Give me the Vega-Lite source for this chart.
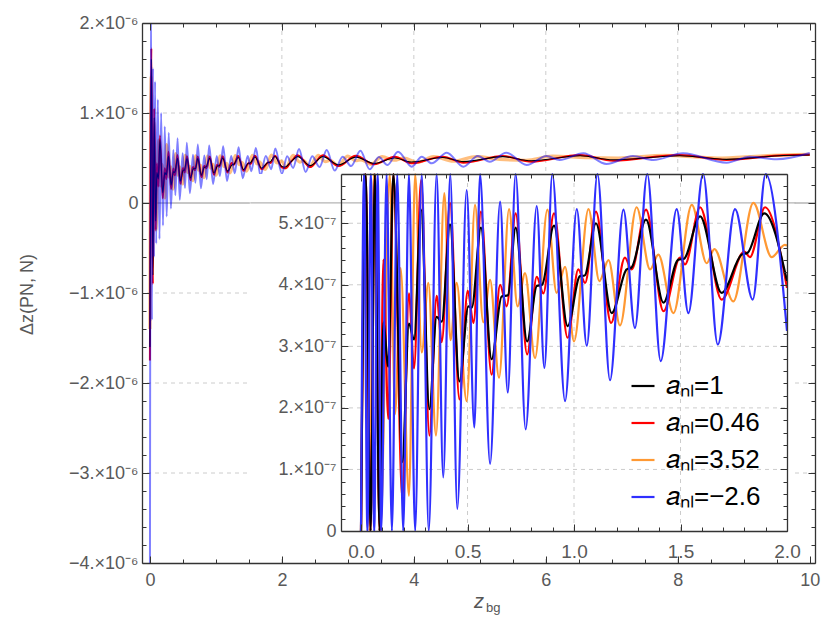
{
  "$schema": "https://vega.github.io/schema/vega-lite/v6.json",
  "width": 673,
  "height": 540,
  "autosize": {"type": "none"},
  "padding": {"left": 142, "top": 23, "right": 15, "bottom": 76},
  "background": "white",
  "datasets": {
    "curves": [
      {"s": "a3.52", "z": 0, "v": -1.4e-6}, {"s": "a3.52", "z": 0.018, "v": 1.4e-6}, {"s": "a3.52", "z": 0.04, "v": -6.0e-7},
      {"s": "a3.52", "z": 0.06, "v": 9.0e-7}, {"s": "a3.52", "z": 0.09, "v": -3.0e-7}, {"s": "a3.52", "z": 0.135, "v": 7.0e-7},
      {"s": "a3.52", "z": 0.16, "v": 1.9e-7}, {"s": "a3.52", "z": 0.186, "v": 4.27e-7}, {"s": "a3.52", "z": 0.225, "v": 0.57e-7},
      {"s": "a3.52", "z": 0.254, "v": 6.5e-7}, {"s": "a3.52", "z": 0.285, "v": 2.9e-7}, {"s": "a3.52", "z": 0.316, "v": 4.03e-7},
      {"s": "a3.52", "z": 0.352, "v": 1.55e-7}, {"s": "a3.52", "z": 0.391, "v": 5.49e-7}, {"s": "a3.52", "z": 0.42, "v": 3.1e-7},
      {"s": "a3.52", "z": 0.449, "v": 4.03e-7}, {"s": "a3.52", "z": 0.496, "v": 2.11e-7}, {"s": "a3.52", "z": 0.535, "v": 5.3e-7},
      {"s": "a3.52", "z": 0.574, "v": 3.39e-7}, {"s": "a3.52", "z": 0.606, "v": 4.08e-7}, {"s": "a3.52", "z": 0.648, "v": 2.49e-7},
      {"s": "a3.52", "z": 0.695, "v": 5.23e-7}, {"s": "a3.52", "z": 0.735, "v": 3.65e-7}, {"s": "a3.52", "z": 0.77, "v": 4.19e-7},
      {"s": "a3.52", "z": 0.817, "v": 2.81e-7}, {"s": "a3.52", "z": 0.875, "v": 5.22e-7}, {"s": "a3.52", "z": 0.918, "v": 3.87e-7},
      {"s": "a3.52", "z": 0.958, "v": 4.29e-7}, {"s": "a3.52", "z": 1.0, "v": 3.08e-7}, {"s": "a3.52", "z": 1.068, "v": 5.23e-7},
      {"s": "a3.52", "z": 1.119, "v": 4.06e-7}, {"s": "a3.52", "z": 1.162, "v": 4.4e-7}, {"s": "a3.52", "z": 1.216, "v": 3.34e-7},
      {"s": "a3.52", "z": 1.294, "v": 5.26e-7}, {"s": "a3.52", "z": 1.357, "v": 4.25e-7}, {"s": "a3.52", "z": 1.396, "v": 4.49e-7},
      {"s": "a3.52", "z": 1.467, "v": 3.54e-7}, {"s": "a3.52", "z": 1.553, "v": 5.3e-7}, {"s": "a3.52", "z": 1.623, "v": 4.35e-7},
      {"s": "a3.52", "z": 1.659, "v": 4.58e-7}, {"s": "a3.52", "z": 1.748, "v": 3.73e-7}, {"s": "a3.52", "z": 1.842, "v": 5.33e-7},
      {"s": "a3.52", "z": 1.928, "v": 4.45e-7}, {"s": "a3.52", "z": 1.99, "v": 4.65e-7}, {"s": "a3.52", "z": 2.0, "v": 4.64e-7},
      {"s": "a3.52", "z": 2.06, "v": 3.9e-7}, {"s": "a3.52", "z": 2.17, "v": 5.3e-7}, {"s": "a3.52", "z": 2.27, "v": 4.55e-7},
      {"s": "a3.52", "z": 2.33, "v": 4.7e-7}, {"s": "a3.52", "z": 2.42, "v": 4.05e-7}, {"s": "a3.52", "z": 2.55, "v": 5.3e-7},
      {"s": "a3.52", "z": 2.66, "v": 4.6e-7}, {"s": "a3.52", "z": 2.73, "v": 4.75e-7}, {"s": "a3.52", "z": 2.85, "v": 4.15e-7},
      {"s": "a3.52", "z": 3.0, "v": 5.2e-7}, {"s": "a3.52", "z": 3.12, "v": 4.7e-7}, {"s": "a3.52", "z": 3.2, "v": 4.8e-7},
      {"s": "a3.52", "z": 3.35, "v": 4.3e-7}, {"s": "a3.52", "z": 3.52, "v": 5.15e-7}, {"s": "a3.52", "z": 3.7, "v": 4.75e-7},
      {"s": "a3.52", "z": 3.85, "v": 5.0e-7}, {"s": "a3.52", "z": 4.05, "v": 4.5e-7}, {"s": "a3.52", "z": 4.3, "v": 5.15e-7},
      {"s": "a3.52", "z": 4.6, "v": 4.65e-7}, {"s": "a3.52", "z": 4.95, "v": 5.15e-7}, {"s": "a3.52", "z": 5.3, "v": 4.85e-7},
      {"s": "a3.52", "z": 5.7, "v": 4.75e-7}, {"s": "a3.52", "z": 6.1, "v": 5.2e-7}, {"s": "a3.52", "z": 6.6, "v": 5.05e-7},
      {"s": "a3.52", "z": 7.1, "v": 5.0e-7}, {"s": "a3.52", "z": 7.8, "v": 5.3e-7}, {"s": "a3.52", "z": 8.6, "v": 5.0e-7},
      {"s": "a3.52", "z": 9.3, "v": 5.25e-7}, {"s": "a3.52", "z": 10.0, "v": 5.4e-7},

      {"s": "a0.46", "z": 0, "v": -1.75e-6}, {"s": "a0.46", "z": 0.022, "v": 1.72e-6}, {"s": "a0.46", "z": 0.045, "v": -9.0e-7},
      {"s": "a0.46", "z": 0.065, "v": 1.05e-6}, {"s": "a0.46", "z": 0.087, "v": -3.0e-7}, {"s": "a0.46", "z": 0.105, "v": 4.41e-7},
      {"s": "a0.46", "z": 0.128, "v": 1.82e-7}, {"s": "a0.46", "z": 0.152, "v": 7.5e-7}, {"s": "a0.46", "z": 0.194, "v": 0.52e-7},
      {"s": "a0.46", "z": 0.225, "v": 3.86e-7}, {"s": "a0.46", "z": 0.249, "v": 2.64e-7}, {"s": "a0.46", "z": 0.282, "v": 5.7e-7},
      {"s": "a0.46", "z": 0.321, "v": 1.55e-7}, {"s": "a0.46", "z": 0.355, "v": 3.82e-7}, {"s": "a0.46", "z": 0.379, "v": 3.07e-7},
      {"s": "a0.46", "z": 0.418, "v": 5.33e-7}, {"s": "a0.46", "z": 0.462, "v": 2.14e-7}, {"s": "a0.46", "z": 0.501, "v": 3.9e-7},
      {"s": "a0.46", "z": 0.528, "v": 3.38e-7}, {"s": "a0.46", "z": 0.563, "v": 5.19e-7}, {"s": "a0.46", "z": 0.613, "v": 2.54e-7},
      {"s": "a0.46", "z": 0.653, "v": 4.0e-7}, {"s": "a0.46", "z": 0.684, "v": 3.65e-7}, {"s": "a0.46", "z": 0.726, "v": 5.16e-7},
      {"s": "a0.46", "z": 0.78, "v": 2.87e-7}, {"s": "a0.46", "z": 0.825, "v": 4.13e-7}, {"s": "a0.46", "z": 0.856, "v": 3.86e-7},
      {"s": "a0.46", "z": 0.906, "v": 5.16e-7}, {"s": "a0.46", "z": 0.97, "v": 3.14e-7}, {"s": "a0.46", "z": 1.02, "v": 4.25e-7},
      {"s": "a0.46", "z": 1.052, "v": 4.03e-7}, {"s": "a0.46", "z": 1.103, "v": 5.19e-7}, {"s": "a0.46", "z": 1.174, "v": 3.38e-7},
      {"s": "a0.46", "z": 1.239, "v": 4.44e-7}, {"s": "a0.46", "z": 1.271, "v": 4.25e-7}, {"s": "a0.46", "z": 1.338, "v": 5.22e-7},
      {"s": "a0.46", "z": 1.42, "v": 3.57e-7}, {"s": "a0.46", "z": 1.498, "v": 4.44e-7}, {"s": "a0.46", "z": 1.521, "v": 4.33e-7},
      {"s": "a0.46", "z": 1.592, "v": 5.26e-7}, {"s": "a0.46", "z": 1.693, "v": 3.76e-7}, {"s": "a0.46", "z": 1.8, "v": 4.54e-7},
      {"s": "a0.46", "z": 1.826, "v": 4.45e-7}, {"s": "a0.46", "z": 1.897, "v": 5.26e-7}, {"s": "a0.46", "z": 2.0, "v": 3.95e-7},
      {"s": "a0.46", "z": 2.05, "v": 3.85e-7}, {"s": "a0.46", "z": 2.14, "v": 4.6e-7}, {"s": "a0.46", "z": 2.24, "v": 5.3e-7},
      {"s": "a0.46", "z": 2.43, "v": 4.0e-7}, {"s": "a0.46", "z": 2.62, "v": 5.3e-7}, {"s": "a0.46", "z": 2.86, "v": 4.1e-7},
      {"s": "a0.46", "z": 3.12, "v": 5.25e-7}, {"s": "a0.46", "z": 3.4, "v": 4.3e-7}, {"s": "a0.46", "z": 3.71, "v": 5.15e-7},
      {"s": "a0.46", "z": 3.96, "v": 4.41e-7}, {"s": "a0.46", "z": 4.44, "v": 5.15e-7}, {"s": "a0.46", "z": 4.75, "v": 4.48e-7},
      {"s": "a0.46", "z": 5.35, "v": 5.22e-7}, {"s": "a0.46", "z": 5.78, "v": 4.59e-7}, {"s": "a0.46", "z": 6.52, "v": 5.33e-7},
      {"s": "a0.46", "z": 7.02, "v": 4.7e-7}, {"s": "a0.46", "z": 8.03, "v": 5.33e-7}, {"s": "a0.46", "z": 8.74, "v": 4.78e-7},
      {"s": "a0.46", "z": 9.6, "v": 5.3e-7}, {"s": "a0.46", "z": 10.0, "v": 5.35e-7},

      {"s": "a1", "z": 0, "v": -1.6e-6}, {"s": "a1", "z": 0.022, "v": 1.6e-6}, {"s": "a1", "z": 0.045, "v": -8.0e-7},
      {"s": "a1", "z": 0.065, "v": 9.5e-7}, {"s": "a1", "z": 0.087, "v": -2.0e-7}, {"s": "a1", "z": 0.105, "v": 3.39e-7},
      {"s": "a1", "z": 0.128, "v": 2.67e-7}, {"s": "a1", "z": 0.152, "v": 7.0e-7}, {"s": "a1", "z": 0.194, "v": 1.12e-7},
      {"s": "a1", "z": 0.225, "v": 3.37e-7}, {"s": "a1", "z": 0.249, "v": 3.11e-7}, {"s": "a1", "z": 0.282, "v": 5.22e-7},
      {"s": "a1", "z": 0.321, "v": 1.98e-7}, {"s": "a1", "z": 0.355, "v": 3.48e-7}, {"s": "a1", "z": 0.379, "v": 3.4e-7},
      {"s": "a1", "z": 0.418, "v": 4.98e-7}, {"s": "a1", "z": 0.462, "v": 2.43e-7}, {"s": "a1", "z": 0.504, "v": 3.65e-7},
      {"s": "a1", "z": 0.52, "v": 3.63e-7}, {"s": "a1", "z": 0.563, "v": 4.93e-7}, {"s": "a1", "z": 0.613, "v": 2.79e-7},
      {"s": "a1", "z": 0.66, "v": 3.81e-7}, {"s": "a1", "z": 0.69, "v": 3.83e-7}, {"s": "a1", "z": 0.726, "v": 4.93e-7},
      {"s": "a1", "z": 0.78, "v": 3.08e-7}, {"s": "a1", "z": 0.825, "v": 3.98e-7}, {"s": "a1", "z": 0.85, "v": 4.0e-7},
      {"s": "a1", "z": 0.906, "v": 4.96e-7}, {"s": "a1", "z": 0.97, "v": 3.33e-7}, {"s": "a1", "z": 1.028, "v": 4.14e-7},
      {"s": "a1", "z": 1.05, "v": 4.15e-7}, {"s": "a1", "z": 1.103, "v": 5.0e-7}, {"s": "a1", "z": 1.177, "v": 3.54e-7},
      {"s": "a1", "z": 1.247, "v": 4.25e-7}, {"s": "a1", "z": 1.27, "v": 4.28e-7}, {"s": "a1", "z": 1.338, "v": 5.06e-7},
      {"s": "a1", "z": 1.42, "v": 3.71e-7}, {"s": "a1", "z": 1.49, "v": 4.41e-7}, {"s": "a1", "z": 1.515, "v": 4.42e-7},
      {"s": "a1", "z": 1.592, "v": 5.11e-7}, {"s": "a1", "z": 1.693, "v": 3.87e-7}, {"s": "a1", "z": 1.787, "v": 4.49e-7},
      {"s": "a1", "z": 1.815, "v": 4.52e-7}, {"s": "a1", "z": 1.893, "v": 5.16e-7}, {"s": "a1", "z": 2.0, "v": 4.06e-7},
      {"s": "a1", "z": 2.05, "v": 4.0e-7}, {"s": "a1", "z": 2.14, "v": 4.6e-7}, {"s": "a1", "z": 2.24, "v": 5.15e-7},
      {"s": "a1", "z": 2.43, "v": 4.15e-7}, {"s": "a1", "z": 2.62, "v": 5.15e-7}, {"s": "a1", "z": 2.86, "v": 4.25e-7},
      {"s": "a1", "z": 3.12, "v": 5.1e-7}, {"s": "a1", "z": 3.4, "v": 4.4e-7}, {"s": "a1", "z": 3.71, "v": 5.0e-7},
      {"s": "a1", "z": 3.96, "v": 4.55e-7}, {"s": "a1", "z": 4.44, "v": 5.05e-7}, {"s": "a1", "z": 4.75, "v": 4.6e-7},
      {"s": "a1", "z": 5.35, "v": 5.15e-7}, {"s": "a1", "z": 5.78, "v": 4.7e-7}, {"s": "a1", "z": 6.52, "v": 5.25e-7},
      {"s": "a1", "z": 7.02, "v": 4.8e-7}, {"s": "a1", "z": 8.03, "v": 5.25e-7}, {"s": "a1", "z": 8.74, "v": 4.85e-7},
      {"s": "a1", "z": 9.6, "v": 5.28e-7}, {"s": "a1", "z": 10.0, "v": 5.33e-7},

      {"s": "a-2.6", "z": 0, "v": -4.5e-6}, {"s": "a-2.6", "z": 0.014, "v": 2.5e-6}, {"s": "a-2.6", "z": 0.03, "v": -1.3e-6},
      {"s": "a-2.6", "z": 0.046, "v": 1.5e-6}, {"s": "a-2.6", "z": 0.062, "v": -6.0e-7}, {"s": "a-2.6", "z": 0.078, "v": 1.35e-6},
      {"s": "a-2.6", "z": 0.095, "v": -4.5e-7}, {"s": "a-2.6", "z": 0.12, "v": 1.15e-6}, {"s": "a-2.6", "z": 0.145, "v": -4.0e-7},
      {"s": "a-2.6", "z": 0.17, "v": 1.0e-6}, {"s": "a-2.6", "z": 0.198, "v": -2.5e-7}, {"s": "a-2.6", "z": 0.225, "v": 8.5e-7},
      {"s": "a-2.6", "z": 0.254, "v": -1.5e-7}, {"s": "a-2.6", "z": 0.285, "v": 7.8e-7}, {"s": "a-2.6", "z": 0.318, "v": -0.6e-7},
      {"s": "a-2.6", "z": 0.355, "v": 5.9e-7}, {"s": "a-2.6", "z": 0.386, "v": 0.87e-7}, {"s": "a-2.6", "z": 0.419, "v": 7.2e-7},
      {"s": "a-2.6", "z": 0.452, "v": 0.36e-7}, {"s": "a-2.6", "z": 0.496, "v": 5.54e-7}, {"s": "a-2.6", "z": 0.532, "v": 1.68e-7},
      {"s": "a-2.6", "z": 0.559, "v": 6.7e-7}, {"s": "a-2.6", "z": 0.606, "v": 1.09e-7}, {"s": "a-2.6", "z": 0.653, "v": 5.35e-7},
      {"s": "a-2.6", "z": 0.689, "v": 2.25e-7}, {"s": "a-2.6", "z": 0.726, "v": 6.5e-7}, {"s": "a-2.6", "z": 0.773, "v": 1.65e-7},
      {"s": "a-2.6", "z": 0.825, "v": 5.28e-7}, {"s": "a-2.6", "z": 0.861, "v": 2.65e-7}, {"s": "a-2.6", "z": 0.898, "v": 6.4e-7},
      {"s": "a-2.6", "z": 0.958, "v": 2.11e-7}, {"s": "a-2.6", "z": 1.013, "v": 5.23e-7}, {"s": "a-2.6", "z": 1.06, "v": 3.01e-7},
      {"s": "a-2.6", "z": 1.11, "v": 6.3e-7}, {"s": "a-2.6", "z": 1.169, "v": 2.45e-7}, {"s": "a-2.6", "z": 1.232, "v": 5.22e-7},
      {"s": "a-2.6", "z": 1.286, "v": 3.3e-7}, {"s": "a-2.6", "z": 1.344, "v": 6.2e-7}, {"s": "a-2.6", "z": 1.407, "v": 2.76e-7},
      {"s": "a-2.6", "z": 1.482, "v": 5.23e-7}, {"s": "a-2.6", "z": 1.537, "v": 3.54e-7}, {"s": "a-2.6", "z": 1.606, "v": 6.1e-7},
      {"s": "a-2.6", "z": 1.675, "v": 3.03e-7}, {"s": "a-2.6", "z": 1.756, "v": 5.23e-7}, {"s": "a-2.6", "z": 1.839, "v": 3.76e-7},
      {"s": "a-2.6", "z": 1.9, "v": 6.05e-7}, {"s": "a-2.6", "z": 2.0, "v": 3.25e-7}, {"s": "a-2.6", "z": 2.08, "v": 5.2e-7},
      {"s": "a-2.6", "z": 2.17, "v": 3.9e-7}, {"s": "a-2.6", "z": 2.26, "v": 6.0e-7}, {"s": "a-2.6", "z": 2.36, "v": 3.45e-7},
      {"s": "a-2.6", "z": 2.46, "v": 5.2e-7}, {"s": "a-2.6", "z": 2.57, "v": 4.0e-7}, {"s": "a-2.6", "z": 2.68, "v": 5.9e-7},
      {"s": "a-2.6", "z": 2.8, "v": 3.6e-7}, {"s": "a-2.6", "z": 2.92, "v": 5.15e-7}, {"s": "a-2.6", "z": 3.05, "v": 4.1e-7},
      {"s": "a-2.6", "z": 3.19, "v": 5.8e-7}, {"s": "a-2.6", "z": 3.33, "v": 3.75e-7}, {"s": "a-2.6", "z": 3.47, "v": 5.1e-7},
      {"s": "a-2.6", "z": 3.6, "v": 4.22e-7}, {"s": "a-2.6", "z": 3.76, "v": 5.7e-7}, {"s": "a-2.6", "z": 3.97, "v": 4.04e-7},
      {"s": "a-2.6", "z": 4.12, "v": 5.15e-7}, {"s": "a-2.6", "z": 4.27, "v": 4.41e-7}, {"s": "a-2.6", "z": 4.5, "v": 5.59e-7},
      {"s": "a-2.6", "z": 4.75, "v": 4.04e-7}, {"s": "a-2.6", "z": 4.97, "v": 5.22e-7}, {"s": "a-2.6", "z": 5.15, "v": 4.59e-7},
      {"s": "a-2.6", "z": 5.4, "v": 5.59e-7}, {"s": "a-2.6", "z": 5.71, "v": 4.22e-7}, {"s": "a-2.6", "z": 6.01, "v": 5.22e-7},
      {"s": "a-2.6", "z": 6.21, "v": 4.78e-7}, {"s": "a-2.6", "z": 6.57, "v": 5.52e-7}, {"s": "a-2.6", "z": 6.92, "v": 4.33e-7},
      {"s": "a-2.6", "z": 7.32, "v": 5.22e-7}, {"s": "a-2.6", "z": 7.63, "v": 4.78e-7}, {"s": "a-2.6", "z": 8.08, "v": 5.52e-7},
      {"s": "a-2.6", "z": 8.74, "v": 4.48e-7}, {"s": "a-2.6", "z": 9.09, "v": 5.15e-7}, {"s": "a-2.6", "z": 9.5, "v": 4.85e-7},
      {"s": "a-2.6", "z": 10.0, "v": 5.55e-7}
    ]
  },
  "resolve": {"scale": {"x": "independent", "y": "independent", "color": "independent"}},
  "layer": [
    {
      "resolve": {"axis": {"x": "independent", "y": "independent"}},
      "layer": [
        {
          "data": {"values": [{"g": 2}, {"g": 4}, {"g": 6}, {"g": 8}]},
          "mark": {"type": "rule", "color": "#cccccc", "strokeDash": [4, 4], "strokeWidth": 1},
          "encoding": {
            "x": {"field": "g", "type": "quantitative", "scale": {"domain": [-0.12, 10.08], "nice": false, "zero": false},
              "axis": {"orient": "bottom", "zindex": 1, "values": [0, 2, 4, 6, 8, 10], "format": "d", "tickSize": -7, "labelPadding": 15, "title": null}}
          }
        },
        {
          "data": {"values": [{"g": 1e-6}, {"g": -1e-6}, {"g": -2e-6}, {"g": -3e-6}]},
          "mark": {"type": "rule", "color": "#cccccc", "strokeDash": [4, 4], "strokeWidth": 1},
          "encoding": {
            "y": {"field": "g", "type": "quantitative", "scale": {"domain": [-4e-6, 2e-6], "nice": false, "zero": false},
              "axis": {"orient": "left", "zindex": 1, "values": [-4e-6, -3e-6, -2e-6, -1e-6, 0, 1e-6, 2e-6], "tickSize": -7, "labelPadding": 11,
                "labelExpr": "datum.value == 0 ? '0' : (datum.value < 0 ? '−' : '') + format(abs(datum.value) * 1e6, 'd') + '.×10⁻⁶'",
                "title": "Δz(PN, N)", "titleX": -106, "titleY": 271}}
          }
        },
        {
          "data": {"values": [{}]},
          "mark": {"type": "rule", "color": "#b4b4b4", "strokeWidth": 1.3},
          "encoding": {
            "y": {"datum": 0, "type": "quantitative", "scale": {"domain": [-4e-6, 2e-6], "nice": false, "zero": false},
              "axis": {"orient": "left", "zindex": 1, "values": [-3.8e-6, -3.6e-6, -3.4e-6, -3.2e-6, -2.8e-6, -2.6e-6, -2.4e-6, -2.2e-6, -1.8e-6, -1.6e-6, -1.4e-6, -1.2e-6, -0.8e-6, -0.6e-6, -0.4e-6, -0.2e-6, 0.2e-6, 0.4e-6, 0.6e-6, 0.8e-6, 1.2e-6, 1.4e-6, 1.6e-6, 1.8e-6],
                "tickSize": -4, "labels": false, "domain": false, "title": null}}
          }
        },
        {
          "data": {"name": "curves"},
          "transform": [{"filter": "datum.s == 'a3.52'"}],
          "mark": {"type": "line", "interpolate": "monotone", "clip": true, "color": "#ff8000", "opacity": 0.5, "strokeWidth": 3.2},
          "encoding": {
            "x": {"field": "z", "type": "quantitative", "scale": {"domain": [-0.12, 10.08], "nice": false, "zero": false},
              "axis": {"orient": "top", "zindex": 1, "values": [0, 2, 4, 6, 8, 10], "tickSize": -7, "labels": false, "title": null}},
            "y": {"field": "v", "type": "quantitative", "scale": {"domain": [-4e-6, 2e-6], "nice": false, "zero": false},
              "axis": {"orient": "right", "zindex": 1, "values": [-4e-6, -3e-6, -2e-6, -1e-6, 0, 1e-6, 2e-6], "tickSize": -7, "labels": false, "title": null}}
          }
        },
        {
          "data": {"name": "curves"},
          "transform": [{"filter": "datum.s == 'a0.46'"}],
          "mark": {"type": "line", "interpolate": "monotone", "clip": true, "color": "#ff0000", "strokeWidth": 2},
          "encoding": {
            "x": {"field": "z", "type": "quantitative", "scale": {"domain": [-0.12, 10.08], "nice": false, "zero": false}, "axis": null},
            "y": {"field": "v", "type": "quantitative", "scale": {"domain": [-4e-6, 2e-6], "nice": false, "zero": false}, "axis": null}
          }
        },
        {
          "data": {"name": "curves"},
          "transform": [{"filter": "datum.s == 'a1'"}],
          "mark": {"type": "line", "interpolate": "monotone", "clip": true, "color": "#000000", "strokeWidth": 1.1},
          "encoding": {
            "x": {"field": "z", "type": "quantitative", "scale": {"domain": [-0.12, 10.08], "nice": false, "zero": false}, "axis": null},
            "y": {"field": "v", "type": "quantitative", "scale": {"domain": [-4e-6, 2e-6], "nice": false, "zero": false}, "axis": null}
          }
        },
        {
          "data": {"name": "curves"},
          "transform": [{"filter": "datum.s == 'a-2.6'"}],
          "mark": {"type": "line", "interpolate": "monotone", "clip": true, "color": "#0000ff", "opacity": 0.5, "strokeWidth": 2},
          "encoding": {
            "x": {"field": "z", "type": "quantitative", "scale": {"domain": [-0.12, 10.08], "nice": false, "zero": false}, "axis": null},
            "y": {"field": "v", "type": "quantitative", "scale": {"domain": [-4e-6, 2e-6], "nice": false, "zero": false}, "axis": null}
          }
        },
        {
          "data": {"values": [{}]},
          "mark": {"type": "rect", "fill": "white"},
          "encoding": {
            "x": {"datum": 1.515, "type": "quantitative", "scale": {"domain": [-0.12, 10.08], "nice": false, "zero": false},
              "axis": {"orient": "bottom", "zindex": 1, "values": [0.5, 1, 1.5, 2.5, 3, 3.5, 4.5, 5, 5.5, 6.5, 7, 7.5, 8.5, 9, 9.5], "tickSize": -4, "labels": false, "domain": false, "title": null}},
            "x2": {"datum": 9.77},
            "y": {"datum": 3.22e-7, "type": "quantitative", "scale": {"domain": [-4e-6, 2e-6], "nice": false, "zero": false},
              "axis": {"orient": "right", "zindex": 1, "values": [-3.8e-6, -3.6e-6, -3.4e-6, -3.2e-6, -2.8e-6, -2.6e-6, -2.4e-6, -2.2e-6, -1.8e-6, -1.6e-6, -1.4e-6, -1.2e-6, -0.8e-6, -0.6e-6, -0.4e-6, -0.2e-6, 0.2e-6, 0.4e-6, 0.6e-6, 0.8e-6, 1.2e-6, 1.4e-6, 1.6e-6, 1.8e-6],
                "tickSize": -4, "labels": false, "domain": false, "title": null}},
            "y2": {"datum": -3.944e-6}
          }
        },
        {
          "data": {"values": [{}]},
          "mark": {"type": "point", "opacity": 0},
          "encoding": {
            "x": {"datum": 5, "type": "quantitative", "scale": {"domain": [-0.12, 10.08], "nice": false, "zero": false},
              "axis": {"orient": "top", "zindex": 1, "values": [0.5, 1, 1.5, 2.5, 3, 3.5, 4.5, 5, 5.5, 6.5, 7, 7.5, 8.5, 9, 9.5], "tickSize": -4, "labels": false, "domain": false, "title": null}},
            "y": {"datum": 0, "type": "quantitative", "axis": null}
          }
        },
        {
          "data": {"values": [{}]},
          "mark": {"type": "text", "text": "z", "fontStyle": "italic", "fontSize": 20, "color": "#555555", "align": "right", "baseline": "alphabetic"},
          "encoding": {
            "x": {"datum": 5.063, "type": "quantitative", "axis": null},
            "y": {"datum": -4.5e-6, "type": "quantitative", "axis": null}
          }
        },
        {
          "data": {"values": [{}]},
          "mark": {"type": "text", "text": "bg", "fontSize": 13, "color": "#555555", "align": "left", "baseline": "alphabetic"},
          "encoding": {
            "x": {"datum": 5.094, "type": "quantitative", "axis": null},
            "y": {"datum": -4.545e-6, "type": "quantitative", "axis": null}
          }
        }
      ]
    },
    {
      "resolve": {"axis": {"x": "independent", "y": "independent"}},
      "layer": [
        {
          "data": {"values": [{"g": 0.5}, {"g": 1.0}, {"g": 1.5}]},
          "mark": {"type": "rule", "color": "#cccccc", "strokeDash": [4, 4], "strokeWidth": 1},
          "encoding": {
            "x": {"field": "g", "type": "quantitative", "scale": {"domain": [-0.094, 2.0], "range": [199, 645], "nice": false, "zero": false},
              "axis": {"orient": "bottom", "zindex": 1, "offset": -32, "values": [0, 0.5, 1, 1.5, 2], "format": ".1f", "tickSize": -7, "labelPadding": 18, "labelFontSize": 19, "title": null}},
            "y": {"datum": 0, "type": "quantitative", "scale": {"domain": [0, 5.8e-7], "range": [508, 151], "nice": false, "zero": false, "clamp": true},
              "axis": {"orient": "left", "zindex": 1, "offset": -199, "values": [0.2e-7, 0.4e-7, 0.6e-7, 0.8e-7, 1.2e-7, 1.4e-7, 1.6e-7, 1.8e-7, 2.2e-7, 2.4e-7, 2.6e-7, 2.8e-7, 3.2e-7, 3.4e-7, 3.6e-7, 3.8e-7, 4.2e-7, 4.4e-7, 4.6e-7, 4.8e-7, 5.2e-7, 5.4e-7, 5.6e-7],
                "tickSize": -4, "labels": false, "domain": false, "title": null}},
            "y2": {"datum": 5.8e-7}
          }
        },
        {
          "data": {"values": [{"g": 1e-7}, {"g": 2e-7}, {"g": 3e-7}, {"g": 4e-7}, {"g": 5e-7}]},
          "mark": {"type": "rule", "color": "#cccccc", "strokeDash": [4, 4], "strokeWidth": 1},
          "encoding": {
            "y": {"field": "g", "type": "quantitative", "scale": {"domain": [0, 5.8e-7], "range": [508, 151], "nice": false, "zero": false, "clamp": true},
              "axis": {"orient": "left", "zindex": 1, "offset": -199, "values": [0, 1e-7, 2e-7, 3e-7, 4e-7, 5e-7], "tickSize": -7, "labelPadding": 12,
                "labelExpr": "datum.value == 0 ? '0' : format(datum.value * 1e7, 'd') + '.×10⁻⁷'", "title": null}},
            "x": {"datum": -0.094, "type": "quantitative", "scale": {"domain": [-0.094, 2.0], "range": [199, 645], "nice": false, "zero": false},
              "axis": {"orient": "bottom", "zindex": 1, "offset": -32, "values": [0.1, 0.2, 0.3, 0.4, 0.6, 0.7, 0.8, 0.9, 1.1, 1.2, 1.3, 1.4, 1.6, 1.7, 1.8, 1.9], "tickSize": -4, "labels": false, "domain": false, "title": null}},
            "x2": {"datum": 2.0}
          }
        },
        {
          "data": {"values": [{}]},
          "mark": {"type": "rule", "color": "#b4b4b4", "strokeWidth": 1.3},
          "encoding": {
            "x": {"datum": -0.52, "type": "quantitative", "scale": {"domain": [-0.094, 2.0], "range": [199, 645], "nice": false, "zero": false},
              "axis": {"orient": "top", "zindex": 1, "offset": -151, "values": [0.1, 0.2, 0.3, 0.4, 0.6, 0.7, 0.8, 0.9, 1.1, 1.2, 1.3, 1.4, 1.6, 1.7, 1.8, 1.9], "tickSize": -4, "labels": false, "domain": false, "title": null}},
            "x2": {"datum": 2.04},
            "y": {"datum": 5.33e-7, "type": "quantitative", "scale": {"domain": [0, 5.8e-7], "range": [508, 151], "nice": false, "zero": false, "clamp": true},
              "axis": {"orient": "right", "zindex": 1, "offset": -28, "values": [0.2e-7, 0.4e-7, 0.6e-7, 0.8e-7, 1.2e-7, 1.4e-7, 1.6e-7, 1.8e-7, 2.2e-7, 2.4e-7, 2.6e-7, 2.8e-7, 3.2e-7, 3.4e-7, 3.6e-7, 3.8e-7, 4.2e-7, 4.4e-7, 4.6e-7, 4.8e-7, 5.2e-7, 5.4e-7, 5.6e-7],
                "tickSize": -4, "labels": false, "domain": false, "title": null}}
          }
        },
        {
          "data": {"name": "curves"},
          "transform": [{"filter": "datum.z <= 2.0001"}],
          "mark": {"type": "line", "interpolate": "monotone", "strokeWidth": 2.2, "clip": true},
          "encoding": {
            "x": {"field": "z", "type": "quantitative", "scale": {"domain": [-0.094, 2.0], "range": [199, 645], "nice": false, "zero": false},
              "axis": {"orient": "top", "zindex": 1, "offset": -151, "values": [0, 0.5, 1, 1.5, 2], "tickSize": -7, "labels": false, "title": null}},
            "y": {"field": "v", "type": "quantitative", "scale": {"domain": [0, 5.8e-7], "range": [508, 151], "nice": false, "zero": false, "clamp": true},
              "axis": {"orient": "right", "zindex": 1, "offset": -28, "values": [0, 1e-7, 2e-7, 3e-7, 4e-7, 5e-7], "tickSize": -7, "labels": false, "title": null}},
            "color": {"field": "s", "type": "nominal",
              "scale": {"domain": ["a1", "a0.46", "a3.52", "a-2.6"], "range": ["#000000", "#ff0000", "#ff9933", "#2f2fff"]},
              "legend": {"orient": "none", "legendX": 488, "legendY": 350, "direction": "vertical", "title": null, "padding": 0,
                "symbolType": "stroke", "symbolSize": 529, "symbolStrokeWidth": 2.2, "labelFontSize": 26, "labelColor": "#000000",
                "labelOffset": 10, "rowPadding": 11, "labelLimit": 300,
                "labelExpr": "datum.label == 'a1' ? ' 𝑎ₙₗ=1' : datum.label == 'a0.46' ? '𝑎ₙₗ=0.46' : datum.label == 'a3.52' ? '𝑎ₙₗ=3.52' : '𝑎ₙₗ=−2.6'"}}
          }
        }
      ]
    }
  ],
  "config": {
    "font": "Liberation Sans",
    "view": {"stroke": null},
    "axis": {
      "grid": false, "labelFont": "Liberation Sans", "labelFontSize": 18, "labelColor": "#595959",
      "domainColor": "#333333", "domainWidth": 1.3, "tickColor": "#333333", "tickWidth": 1,
      "labelFlush": false, "labelOverlap": false,
      "titleFont": "Liberation Sans", "titleFontSize": 18, "titleFontWeight": "normal", "titleColor": "#595959"
    },
    "legend": {"labelFont": "Liberation Sans"}
  }
}
